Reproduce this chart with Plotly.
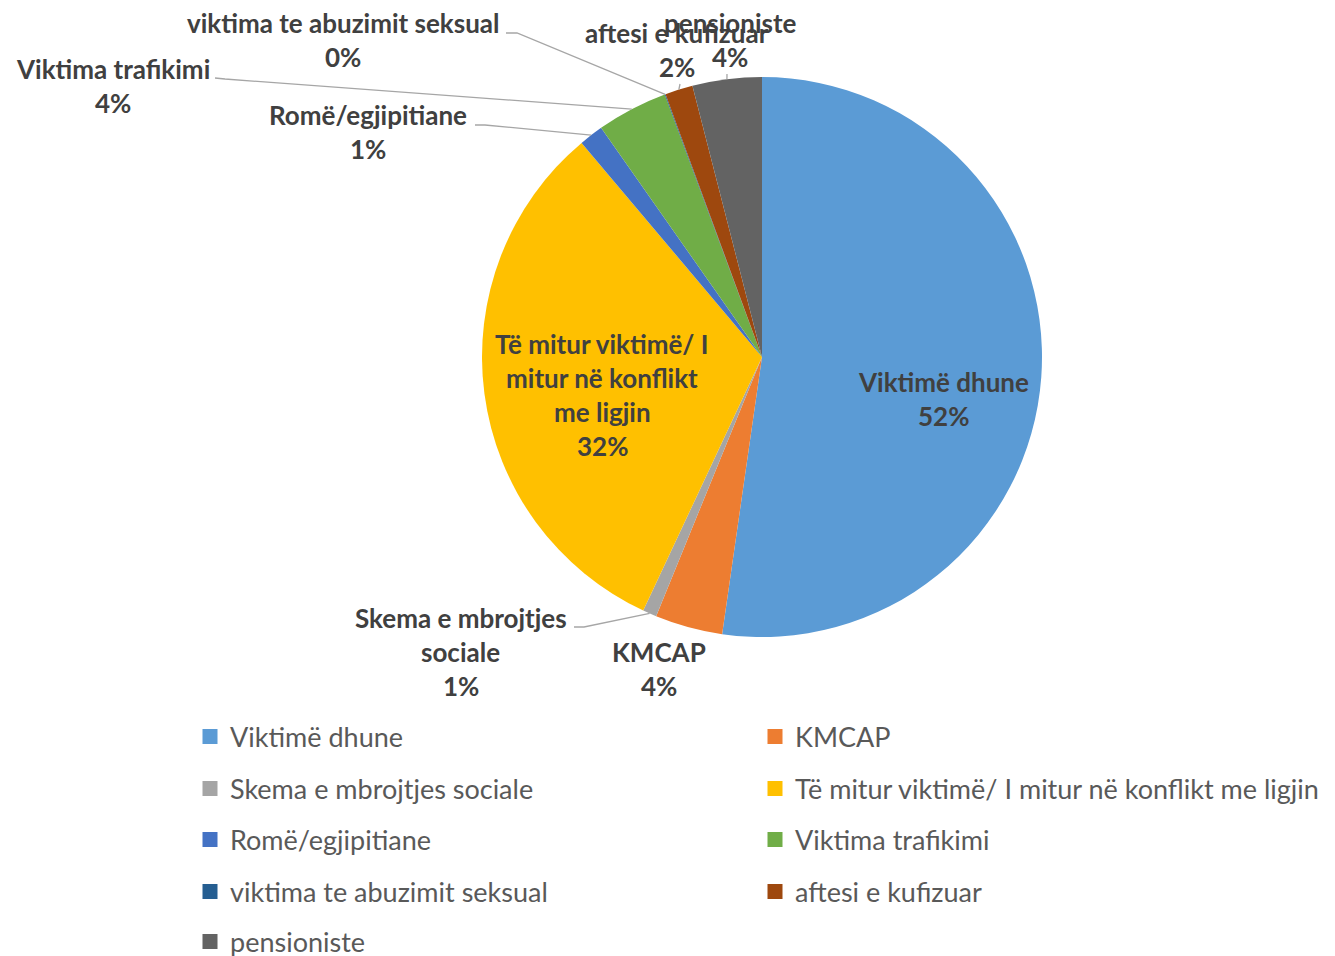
import math
import plotly.graph_objects as go

# ---------------- data ----------------
categories = [
    "Viktimë dhune",
    "KMCAP",
    "Skema e mbrojtjes sociale",
    "Të mitur viktimë/ I mitur në konflikt me ligjin",
    "Romë/egjipitiane",
    "Viktima trafikimi",
    "viktima te abuzimit seksual",
    "aftesi e kufizuar",
    "pensioniste",
]
values = [52.3, 3.9, 0.8, 31.9, 1.4, 4.1, 0.05, 1.6, 4.0]
colors = ["#5B9BD5", "#ED7D31", "#A5A5A5", "#FFC000", "#4472C4",
          "#70AD47", "#255E91", "#9E480E", "#636363"]

# data-label wrapping (text only)
label_lines = {
    "Viktimë dhune": ["Viktimë dhune"],
    "KMCAP": ["KMCAP"],
    "Skema e mbrojtjes sociale": ["Skema e mbrojtjes", "sociale"],
    "Të mitur viktimë/ I mitur në konflikt me ligjin": ["Të mitur viktimë/ I", "mitur në konflikt", "me ligjin"],
    "Romë/egjipitiane": ["Romë/egjipitiane"],
    "Viktima trafikimi": ["Viktima trafikimi"],
    "viktima te abuzimit seksual": ["viktima te abuzimit seksual"],
    "aftesi e kufizuar": ["aftesi e kufizuar"],
    "pensioniste": ["pensioniste"],
}

# ---------------- layout geometry (page pixels) ----------------
W, H = 1335, 956
OFF = 8                      # page body margin around the plot div
CX, CY, R = 762, 357, 280
LINE_H = 34

# label anchor: (center x, center y of first line), leader start (or None)
label_pos = {
    "Viktimë dhune": (943, 382, None),
    "KMCAP": (659, 652, None),
    "Skema e mbrojtjes sociale": (461, 618, [(574, 627), (584, 627)]),
    "Të mitur viktimë/ I mitur në konflikt me ligjin": (602, 344, None),
    "Romë/egjipitiane": (368, 115, [(475, 125), (485, 125)]),
    "Viktima trafikimi": (113, 69, [(215, 78), (225, 79)]),
    "viktima te abuzimit seksual": (343, 23, [(506, 33), (517, 33)]),
    "aftesi e kufizuar": (677, 33, [(680, 84)]),
    "pensioniste": (730, 23, [(727, 74)]),
}

LEG_COL_X = [190, 755]                  # legend box left edge per column
LEG_ROW_Y = [737, 789, 840, 892, 942]   # legend row centres


def px(x):
    return (x - OFF) / W


def py(y):
    return 1 - (y - OFF) / H


total = sum(values)
pcts = [round(v / total * 100) for v in values]

fig = go.Figure()
fig.add_trace(go.Pie(
    labels=categories,
    values=values,
    sort=False,
    direction="clockwise",
    rotation=0,
    marker=dict(colors=colors, line=dict(width=0)),
    textinfo="none",
    hoverinfo="label+percent",
    showlegend=False,
    domain=dict(x=[px(CX - R), px(CX + R)], y=[py(CY + R), py(CY - R)]),
))

legend_layouts = {}
leg_font = dict(family="Lato, 'Open Sans', sans-serif", size=27, color="#595959")
for i, (cat, col) in enumerate(zip(categories, colors)):
    lid = "legend" if i == 0 else f"legend{i + 1}"
    fig.add_trace(go.Scatter(
        x=[None], y=[None], mode="markers", name=cat,
        marker=dict(symbol="square", size=15, color=col),
        legend=lid, showlegend=True, hoverinfo="skip",
    ))
    legend_layouts[lid] = dict(
        xref="paper", yref="paper",
        x=px(LEG_COL_X[i % 2]), xanchor="left",
        y=py(LEG_ROW_Y[i // 2]), yanchor="middle",
        font=leg_font, bgcolor="rgba(0,0,0,0)", borderwidth=0,
    )

annotations = []
shapes = []
label_font = dict(family="Lato, 'Open Sans', sans-serif", size=26, color="#404040")
cum = 0.0
for cat, v, p in zip(categories, values, pcts):
    mid = (cum + v / 2) / total * 2 * math.pi
    cum += v
    lx, ly, leader = label_pos[cat]
    lines = label_lines[cat] + [f"{p}%"]
    for i, t in enumerate(lines):
        annotations.append(dict(
            x=px(lx), y=py(ly + i * LINE_H), xref="paper", yref="paper",
            text=f"<b>{t}</b>", showarrow=False, xanchor="center", yanchor="middle",
            font=label_font,
        ))
    if leader:
        ex = CX + R * math.sin(mid)
        ey = CY - R * math.cos(mid)
        pts = leader + [(ex, ey)]
        path = "M " + " L ".join(f"{px(a):.5f},{py(b):.5f}" for a, b in pts)
        shapes.append(dict(type="path", path=path, xref="paper", yref="paper",
                           line=dict(color="#A6A6A6", width=1.3)))

fig.update_layout(
    width=W, height=H,
    margin=dict(l=0, r=0, t=0, b=0, autoexpand=False),
    paper_bgcolor="white",
    plot_bgcolor="white",
    xaxis=dict(visible=False),
    yaxis=dict(visible=False),
    annotations=annotations,
    shapes=shapes,
    showlegend=True,
    **legend_layouts,
)

fig.write_html("out.html")
